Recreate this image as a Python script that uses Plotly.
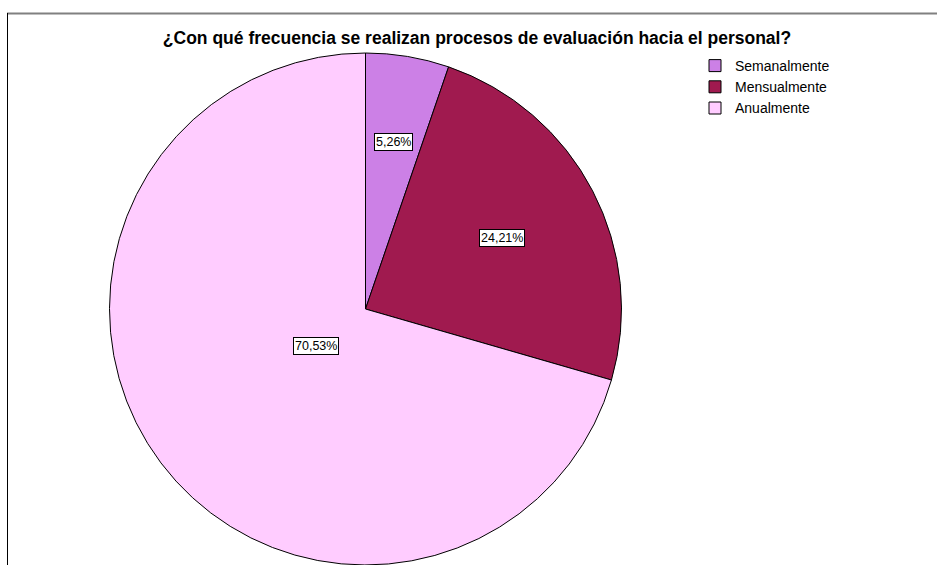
import math
import plotly.graph_objects as go

# Data
categories = ["Semanalmente", "Mensualmente", "Anualmente"]
counts = [5, 23, 67]
pct_labels = ["5,26%", "24,21%", "70,53%"]
colors = ["#CC80E6", "#A01A4F", "#FFCCFF"]
label_radius_frac = [0.66, 0.60, 0.24]

W, H = 938, 565
# pie domain (paper coords, margins are zero)
dom_x = [109.5 / W, 621.5 / W]
dom_y = [0.0, 1 - 53 / H]

fig = go.Figure(go.Pie(
    labels=categories,
    values=counts,
    sort=False,
    direction="clockwise",
    rotation=0,
    marker=dict(colors=colors, line=dict(color="#000000", width=1)),
    textinfo="none",
    hoverinfo="label+percent",
    domain=dict(x=dom_x, y=dom_y),
))

# label boxes placed along each slice's mid-angle
cx = (dom_x[0] + dom_x[1]) / 2 * W
cy_px = 53 + 256
R = 256
total = sum(counts)
cum = 0
annotations = []
for cat, v, lab, f in zip(categories, counts, pct_labels, label_radius_frac):
    mid = (cum + v / 2) / total * 2 * math.pi
    cum += v
    px = cx + f * R * math.sin(mid)
    py = cy_px - f * R * math.cos(mid)
    annotations.append(dict(
        x=px / W, y=1 - py / H, xref="paper", yref="paper",
        text=lab, showarrow=False,
        font=dict(family="Liberation Sans, Arial", size=12.5, color="#000000"),
        bgcolor="#FFFFFF", bordercolor="#000000", borderwidth=1, borderpad=1,
        xanchor="center", yanchor="middle",
    ))

fig.update_layout(
    width=W, height=H,
    margin=dict(l=0, r=0, t=0, b=0),
    paper_bgcolor="#FFFFFF",
    plot_bgcolor="#FFFFFF",
    font=dict(family="Liberation Sans, Arial", color="#000000"),
    title=dict(
        text="<b>¿Con qué frecuencia se realizan procesos de evaluación hacia el personal?</b>",
        x=477 / W, xanchor="center", y=1 - 38 / H, yanchor="middle",
        font=dict(family="Liberation Sans, Arial", size=17.5, color="#000000"),
    ),
    legend=dict(
        x=695 / W, y=1 - 50 / H, xanchor="left", yanchor="top",
        font=dict(family="Liberation Sans, Arial", size=14, color="#000000"),
        bgcolor="rgba(0,0,0,0)", tracegroupgap=0, itemwidth=30,
    ),
    annotations=annotations,
    shapes=[
        dict(type="line", xref="paper", yref="paper",
             x0=7 / W, x1=937 / W, y0=1 - 13.5 / H, y1=1 - 13.5 / H,
             line=dict(color="#808080", width=2)),
        dict(type="line", xref="paper", yref="paper",
             x0=7.5 / W, x1=7.5 / W, y0=1 - 13 / H, y1=0,
             line=dict(color="#000000", width=1)),
    ],
)

fig.write_html(
    "out.html",
    config={"displayModeBar": False},
    post_script="document.body.style.margin='0';document.body.style.padding='0';",
)
